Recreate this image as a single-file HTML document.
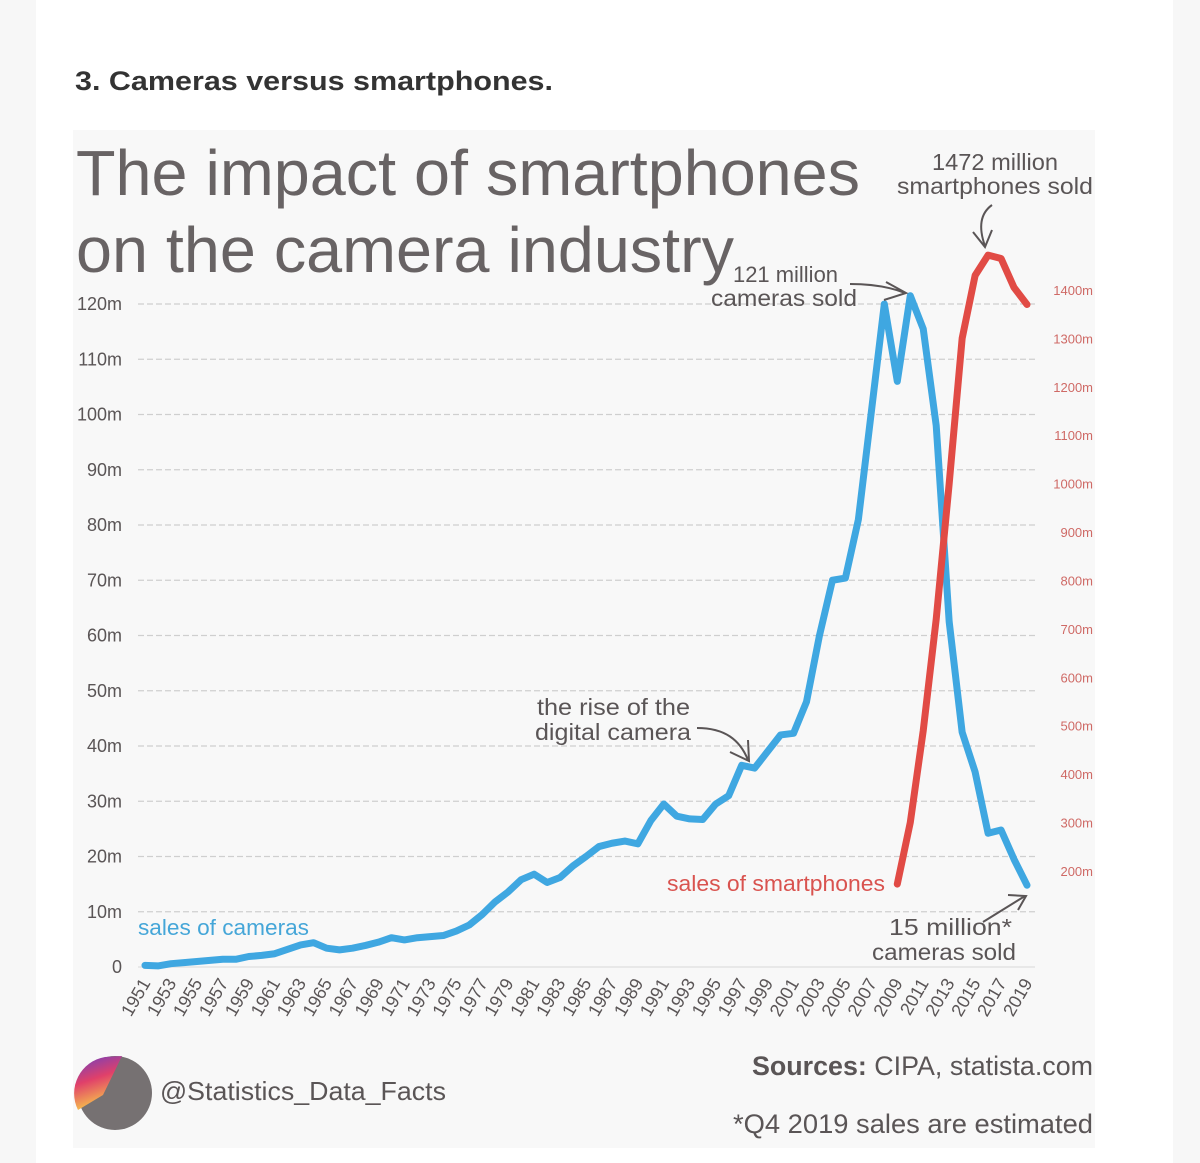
<!DOCTYPE html>
<html><head><meta charset="utf-8"><style>
html,body{margin:0;padding:0;background:#fff;}
svg{display:block;font-family:"Liberation Sans",sans-serif;}
</style></head><body>
<svg id="chart" width="1200" height="1163" viewBox="0 0 1200 1163">
<rect x="0" y="0" width="36" height="1163" fill="#f7f7f7"/>
<rect x="1173" y="0" width="27" height="1163" fill="#f7f7f7"/>
<text x="75" y="90" font-size="27" font-weight="bold" fill="#333" textLength="478" lengthAdjust="spacingAndGlyphs">3. Cameras versus smartphones.</text>
<rect x="73" y="130" width="1022" height="1018" fill="#f8f8f8"/>
<text x="76" y="195" font-size="64" fill="#686364" textLength="784" lengthAdjust="spacingAndGlyphs">The impact of smartphones</text>
<text x="76" y="272" font-size="64" fill="#686364" textLength="658" lengthAdjust="spacingAndGlyphs">on the camera industry</text>
<g id="grid"></g>
<g id="yl"></g>
<g id="yr"></g>
<g id="xl"></g>
<g id="series"></g>
<g fill="#5a5556" font-size="23">
<text x="932" y="170" textLength="126" lengthAdjust="spacingAndGlyphs">1472 million</text>
<text x="897" y="194" textLength="196" lengthAdjust="spacingAndGlyphs">smartphones sold</text>
<text x="733" y="282" font-size="22" textLength="105" lengthAdjust="spacingAndGlyphs">121 million</text>
<text x="711" y="306" textLength="146" lengthAdjust="spacingAndGlyphs">cameras sold</text>
<text x="537" y="715" textLength="153" lengthAdjust="spacingAndGlyphs">the rise of the</text>
<text x="535" y="740" textLength="156" lengthAdjust="spacingAndGlyphs">digital camera</text>
<text x="889" y="935" textLength="123" lengthAdjust="spacingAndGlyphs">15 million*</text>
<text x="872" y="960" textLength="144" lengthAdjust="spacingAndGlyphs">cameras sold</text>
</g>
<g fill="none" stroke="#5a5556" stroke-width="2">
<path d="M992 205 C978 215 980 232 985 246 M973 232 L985 247 L992 230"/>
<path d="M850 284 C870 284 890 287 905 293 M886 282 L906 293 L884 300"/>
<path d="M697 728 C725 728 740 740 748 760 M730 752 L749 761 L748 740"/>
<path d="M983 922 L1025 896 M1008 895 L1026 896 L1018 910"/>
</g>
<text x="667" y="891" font-size="22" fill="#d9534f" textLength="218" lengthAdjust="spacingAndGlyphs">sales of smartphones</text>
<text x="138" y="935" font-size="22" fill="#45a6d8" textLength="171" lengthAdjust="spacingAndGlyphs">sales of cameras</text>
<text x="1093" y="1075" font-size="27" fill="#5a5556" text-anchor="end" textLength="341" lengthAdjust="spacingAndGlyphs"><tspan font-weight="bold">Sources:</tspan> CIPA, statista.com</text>
<text x="1093" y="1133" font-size="27" fill="#5a5556" text-anchor="end" textLength="360" lengthAdjust="spacingAndGlyphs">*Q4 2019 sales are estimated</text>
<defs><linearGradient id="ig" x1="0" y1="0" x2="0.3" y2="1"><stop offset="0" stop-color="#6a3fc4"/><stop offset="0.5" stop-color="#e0406a"/><stop offset="1" stop-color="#f7c64a"/></linearGradient></defs>
<g>
<circle cx="115" cy="1093" r="37" fill="#767172"/>
<path d="M122 1056 L103 1095 L78 1110 A37 37 0 0 1 105 1057 Z" fill="url(#ig)"/>
</g>
<text x="160" y="1100" font-size="26" fill="#5a5556" textLength="286" lengthAdjust="spacingAndGlyphs">@Statistics_Data_Facts</text>
</svg>
<script>
const years = [];
for (let y = 1951; y <= 2019; y++) years.push(y);
const cameraSales = [0.3,0.2,0.6,0.8,1.0,1.2,1.4,1.4,1.9,2.1,2.4,3.2,4.0,4.4,3.4,3.1,3.4,3.9,4.5,5.3,4.9,5.3,5.5,5.7,6.5,7.6,9.5,11.8,13.6,15.8,16.8,15.3,16.2,18.3,20.0,21.8,22.4,22.8,22.3,26.5,29.5,27.3,26.8,26.7,29.5,31.0,36.5,36.0,39.0,42.0,42.3,48,60,70,70.4,81,100.5,120,106,121.5,115.5,98,62.5,42.5,35.3,24.2,24.8,19.5,14.8];
const phoneYears = [2009,2010,2011,2012,2013,2014,2015,2016,2017,2018,2019];
const phoneSales = [173,300,490,720,1000,1300,1430,1472,1465,1405,1370];
const leftTicks = [0,10,20,30,40,50,60,70,80,90,100,110,120];
const leftTickLabels = ["0","10m","20m","30m","40m","50m","60m","70m","80m","90m","100m","110m","120m"];
const rightTicks = [200,300,400,500,600,700,800,900,1000,1100,1200,1300,1400];

const NS = "http://www.w3.org/2000/svg";
const xS = y => 145 + (y - 1951) * (882 / 68);
const yL = v => 967 - v * 5.525;
const yR = v => 871 - (v - 200) * 0.4842;
function mk(tag, attrs, parent, txt) {
  const e = document.createElementNS(NS, tag);
  for (const k in attrs) e.setAttribute(k, attrs[k]);
  if (txt !== undefined) e.textContent = txt;
  parent.appendChild(e); return e;
}
const grid = document.getElementById('grid');
const yl = document.getElementById('yl');
const yr = document.getElementById('yr');
const xl = document.getElementById('xl');
const series = document.getElementById('series');
leftTicks.forEach((t, i) => {
  const y = yL(t);
  const ln = mk('line', {x1: 138, x2: 1035, y1: y, y2: y, stroke: t === 0 ? '#e2e2e2' : '#cfcfcf', 'stroke-width': t === 0 ? 1.5 : 1.2, 'stroke-dasharray': t === 0 ? 'none' : '6 3'}, grid);
  
  
  const tx = mk('text', {x: 122, y: y + 6, 'text-anchor': 'end', 'font-size': 18, fill: '#5a5556'}, yl, leftTickLabels[i]);
  
  
});
rightTicks.forEach(t => {
  const tx = mk('text', {x: 1093, y: yR(t) + 5, 'text-anchor': 'end', 'font-size': 13, fill: '#cf6a66'}, yr, t + 'm');
  
  
});
years.forEach(y => {
  if ((y - 1951) % 2) return;
  const x = xS(y) + 6;
  const tx = mk('text', {x: x, y: 983, 'text-anchor': 'end', 'font-size': 18, fill: '#5a5556', transform: 'rotate(-60 ' + x + ' 983)'}, xl, String(y));
  
  
});
const cam = mk('polyline', {points: years.map((y, i) => xS(y) + ',' + yL(cameraSales[i])).join(' '), fill: 'none', stroke: '#3fa7e1', 'stroke-width': 7, 'stroke-linejoin': 'round', 'stroke-linecap': 'round'}, series);


const ph = mk('polyline', {points: phoneYears.map((y, i) => xS(y) + ',' + yR(phoneSales[i])).join(' '), fill: 'none', stroke: '#e14b45', 'stroke-width': 7, 'stroke-linejoin': 'round', 'stroke-linecap': 'round'}, series);


</script>
</body></html>
